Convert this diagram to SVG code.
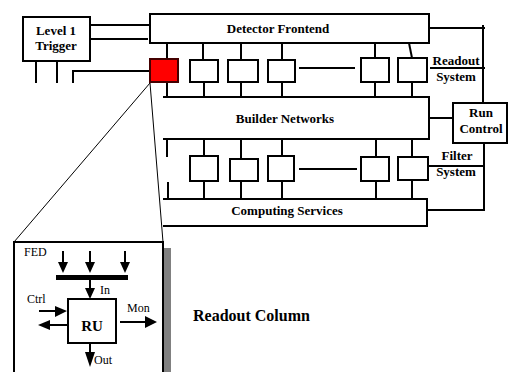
<svg xmlns="http://www.w3.org/2000/svg" width="509" height="372" viewBox="0 0 509 372">
<defs>
<style>
.ln{stroke:#000;stroke-width:2;fill:none}
.bx{stroke:#000;stroke-width:2;fill:#fff}
.thin{stroke:#000;stroke-width:1;fill:none}
.lbl{font-family:"Liberation Serif",serif;font-weight:bold;font-size:13px;fill:#000;text-anchor:middle}
.sm{font-family:"Liberation Serif",serif;font-size:12px;fill:#000}
.ah{fill:#000;stroke:none}
</style>
</defs>
<rect width="509" height="372" fill="#fff"/>
<g id="connectors">
<line class="ln" x1="90" y1="25" x2="150" y2="25"/>
<line class="ln" x1="90" y1="39" x2="148" y2="39"/>
<line class="ln" x1="36" y1="61" x2="36" y2="83"/>
<line class="ln" x1="57" y1="61" x2="57" y2="83"/>
<polyline class="ln" points="73,83 73,71 150,71"/>
<line class="ln" x1="167" y1="43" x2="167" y2="58"/>
<line class="ln" x1="167" y1="82" x2="167" y2="97"/>
<line class="ln" x1="203" y1="43" x2="203" y2="60"/>
<line class="ln" x1="204" y1="82" x2="204" y2="97"/>
<line class="ln" x1="241" y1="43" x2="241" y2="60"/>
<line class="ln" x1="241" y1="82" x2="241" y2="97"/>
<line class="ln" x1="282" y1="43" x2="282" y2="60"/>
<line class="ln" x1="282" y1="82" x2="282" y2="97"/>
<line class="ln" x1="375" y1="43" x2="375" y2="58"/>
<line class="ln" x1="375" y1="82" x2="375" y2="97"/>
<line class="ln" x1="409" y1="43" x2="412" y2="58"/>
<line class="ln" x1="412" y1="82" x2="412" y2="97"/>
<line class="ln" x1="299" y1="68" x2="355" y2="68"/>
<polyline class="ln" points="163,97 429,97 429,139 163,139"/>
<line class="ln" x1="167" y1="139" x2="167" y2="157"/>
<line class="ln" x1="168" y1="182" x2="168" y2="199"/>
<line class="ln" x1="204" y1="139" x2="204" y2="156"/>
<line class="ln" x1="204" y1="181" x2="204" y2="199"/>
<line class="ln" x1="241" y1="139" x2="241" y2="159"/>
<line class="ln" x1="241" y1="181" x2="241" y2="199"/>
<line class="ln" x1="282" y1="139" x2="282" y2="156"/>
<line class="ln" x1="282" y1="181" x2="282" y2="199"/>
<line class="ln" x1="376" y1="139" x2="376" y2="157"/>
<line class="ln" x1="376" y1="181" x2="376" y2="199"/>
<line class="ln" x1="412" y1="139" x2="412" y2="157"/>
<line class="ln" x1="412" y1="180" x2="412" y2="199"/>
<line class="ln" x1="299" y1="169" x2="357" y2="169"/>
<polyline class="ln" points="163,199 427,199 427,226 163,226"/>
<polyline class="ln" points="429,28 485,28"/>
<line class="ln" x1="483" y1="25" x2="483" y2="103"/>
<line class="ln" x1="430" y1="68" x2="485" y2="68"/>
<line class="ln" x1="429" y1="118" x2="453" y2="118"/>
<line class="ln" x1="429" y1="166" x2="484" y2="166"/>
<polyline class="ln" points="484,143 484,210 427,210"/>
<line class="thin" x1="150" y1="83" x2="14" y2="242"/>
<line class="thin" x1="150" y1="83" x2="163" y2="242"/>
</g>
<g id="detector-frontend">
<rect class="bx" x="150" y="14" width="279" height="29"/>
<text class="lbl" x="278" y="33">Detector Frontend</text>
</g>
<g id="level1-trigger">
<rect class="bx" x="23" y="17" width="67" height="44"/>
<text class="lbl" x="56" y="35">Level 1</text>
<text class="lbl" x="56" y="50">Trigger</text>
</g>
<g id="readout-units">
<rect x="150" y="59" width="28" height="23" fill="#f00" stroke="#400" stroke-width="2"/>
<rect class="bx" x="190" y="60" width="28" height="22"/>
<rect class="bx" x="228" y="60" width="30" height="22"/>
<rect class="bx" x="268" y="60" width="27" height="22"/>
<rect class="bx" x="361" y="58" width="28" height="24"/>
<rect class="bx" x="398" y="58" width="29" height="24"/>
</g>
<g id="readout-system">
<text class="lbl" x="456" y="65">Readout</text>
<text class="lbl" x="456" y="81">System</text>
</g>
<g id="builder-networks">
<text class="lbl" x="285" y="123">Builder Networks</text>
</g>
<g id="run-control">
<rect class="bx" x="453" y="103" width="54" height="40"/>
<text class="lbl" x="481" y="117">Run</text>
<text class="lbl" x="481" y="133">Control</text>
</g>
<g id="filter-units">
<rect class="bx" x="190" y="156" width="28" height="25"/>
<rect class="bx" x="230" y="159" width="28" height="22"/>
<rect class="bx" x="268" y="156" width="26" height="25"/>
<rect class="bx" x="361" y="157" width="28" height="24"/>
<rect class="bx" x="398" y="157" width="30" height="23"/>
</g>
<g id="filter-system">
<text class="lbl" x="457" y="160">Filter</text>
<text class="lbl" x="456" y="176">System</text>
</g>
<g id="computing-services">
<text class="lbl" x="287" y="215">Computing Services</text>
</g>
<g id="readout-column">
<rect x="164" y="248" width="7" height="124" fill="#808080"/>
<rect x="14" y="242" width="149" height="132" fill="#fff" stroke="#000" stroke-width="2"/>
<text class="sm" x="24" y="256">FED</text>
<line class="ln" x1="63" y1="251" x2="63" y2="264"/>
<polygon class="ah" points="58,262 68,262 63,273"/>
<line class="ln" x1="90" y1="251" x2="90" y2="264"/>
<polygon class="ah" points="85,262 95,262 90,273"/>
<line class="ln" x1="125" y1="251" x2="125" y2="264"/>
<polygon class="ah" points="120,262 130,262 125,273"/>
<rect x="56" y="275" width="72" height="5" fill="#000"/>
<line class="ln" x1="90" y1="280" x2="90" y2="290"/>
<polygon class="ah" points="85,288 95,288 90,299"/>
<text class="sm" x="100" y="294">In</text>
<rect class="bx" x="68" y="299" width="48" height="44"/>
<text x="92" y="331" font-family="Liberation Serif, serif" font-weight="bold" font-size="15" text-anchor="middle">RU</text>
<text class="sm" x="27" y="303">Ctrl</text>
<line class="ln" x1="39" y1="311" x2="57" y2="311"/>
<polygon class="ah" points="55,306 55,317 67,311"/>
<line class="ln" x1="68" y1="325" x2="48" y2="325"/>
<polygon class="ah" points="50,320 50,330 38,325"/>
<text class="sm" x="127" y="312">Mon</text>
<line class="ln" x1="120" y1="322" x2="147" y2="322"/>
<polygon class="ah" points="145,316 145,328 157,322"/>
<line class="ln" x1="90" y1="343" x2="90" y2="354"/>
<polygon class="ah" points="85,352 95,352 90,367"/>
<text class="sm" x="94" y="364">Out</text>
</g>
<g id="readout-column-label">
<text x="193" y="321" font-family="Liberation Serif, serif" font-weight="bold" font-size="16">Readout Column</text>
</g>
</svg>
